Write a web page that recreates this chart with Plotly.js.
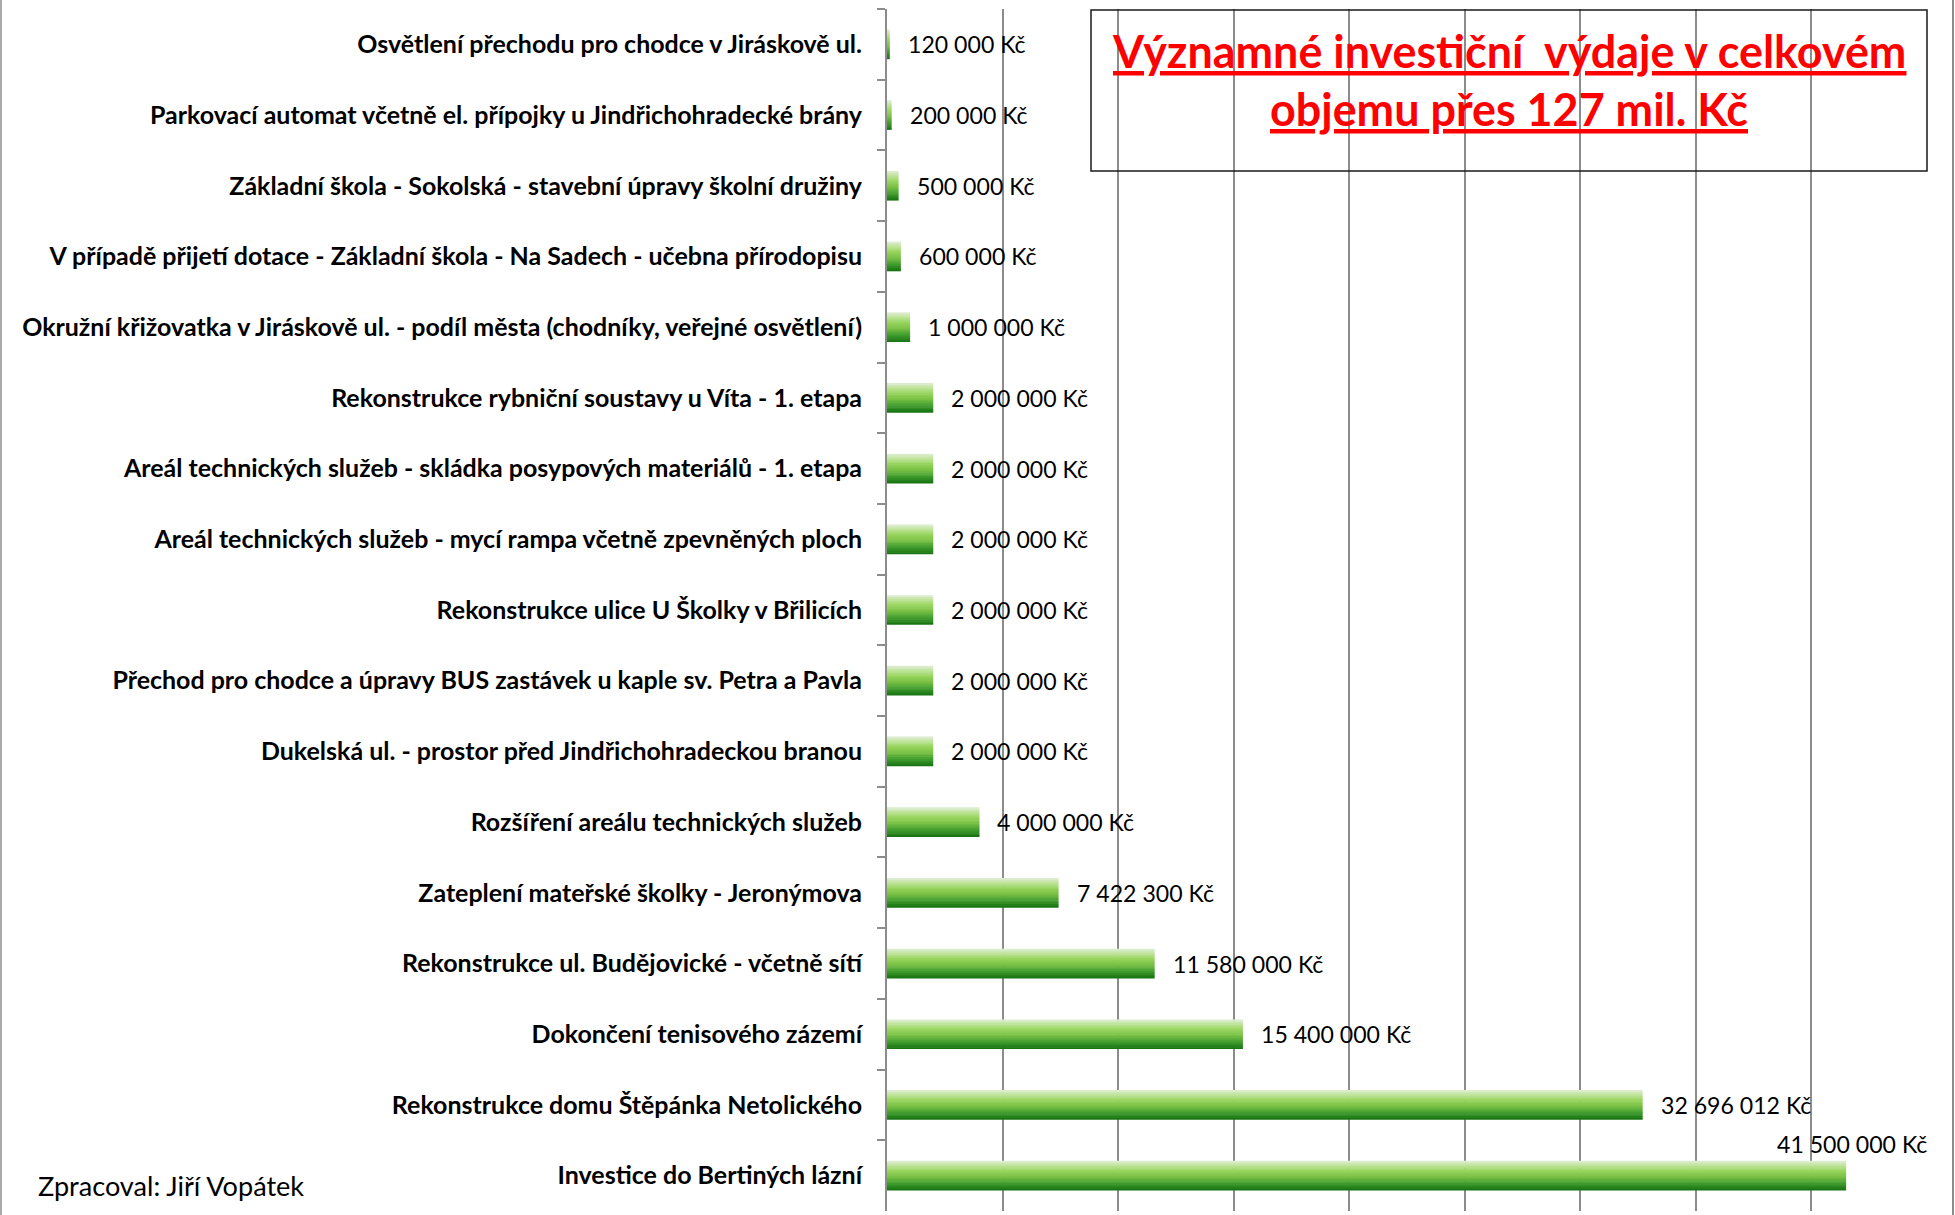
<!DOCTYPE html>
<html><head><meta charset="utf-8">
<script src="https://cdn.plot.ly/plotly-3.0.1.min.js"></script>
<style>html,body{margin:0;padding:0;background:#fff;overflow:hidden}#chart{width:1955px;height:1215px}</style>
</head><body><div id="chart"></div>
<script>
// ---- data (top to bottom as in the picture) ----
const categories = [
  "Osvětlení přechodu pro chodce v Jiráskově ul.",
  "Parkovací automat včetně el. přípojky u Jindřichohradecké brány",
  "Základní škola - Sokolská - stavební úpravy školní družiny",
  "V případě přijetí dotace - Základní škola - Na Sadech - učebna přírodopisu",
  "Okružní křižovatka v Jiráskově ul. - podíl města (chodníky, veřejné osvětlení)",
  "Rekonstrukce rybniční soustavy u Víta - 1. etapa",
  "Areál technických služeb - skládka posypových materiálů - 1. etapa",
  "Areál technických služeb - mycí rampa včetně zpevněných ploch",
  "Rekonstrukce ulice U Školky v Břilicích",
  "Přechod pro chodce a úpravy BUS zastávek u kaple sv. Petra a Pavla",
  "Dukelská ul. - prostor před Jindřichohradeckou branou",
  "Rozšíření areálu technických služeb",
  "Zateplení mateřské školky - Jeronýmova",
  "Rekonstrukce ul. Budějovické - včetně sítí",
  "Dokončení tenisového zázemí",
  "Rekonstrukce domu Štěpánka Netolického",
  "Investice do Bertiných lázní"
];
const values = [120000, 200000, 500000, 600000, 1000000, 2000000, 2000000, 2000000, 2000000, 2000000, 2000000, 4000000, 7422300, 11580000, 15400000, 32696012, 41500000];
const currency = "Kč";
const titleLines = ["Významné investiční  výdaje v celkovém", "objemu přes 127 mil. Kč"];
const footnote = "Zpracoval: Jiří Vopátek";
const xMax = 45000000;
const xStep = 5000000;

// ---- layout geometry (pixels) ----
const W = 1955, H = 1215;
const plotLeft = 887, plotRight = 1927, plotTop = 9, plotBottom = 1211;
const plotW = plotRight - plotLeft, plotH = plotBottom - plotTop;
const px2x = p => (p - plotLeft) / plotW;
const py2y = p => (plotBottom - p) / plotH;
const FAM = "Lato";

const ctx = document.createElement('canvas').getContext('2d');
function measure(text, weight, size) { ctx.font = weight + ' ' + size + 'px ' + FAM; return ctx.measureText(text).width; }
function fit(text, weight, target) { return 100 * target / measure(text, weight, 100); }

const catSize = Math.min(...categories.map(c => fit(c, 'bold', 843)));
const fmt = v => String(Math.round(v)).replace(/\B(?=(\d{3})+(?!\d))/g, '\u00a0') + '\u00a0' + currency;
const valSize = fit(fmt(2000000), 'normal', 137);
const footSize = fit(footnote, 'normal', 268);
const titleSize = fit(titleLines[0], 'bold', 797);

// gradient strips for the bars
const stops = [[0, '#e2efd9'], [0.15, '#c2e49f'], [0.35, '#97d45c'], [0.55, '#78c045'], [0.75, '#44a030'], [1, '#13700f']];
function hex(c) { return [1, 3, 5].map(i => parseInt(c.substr(i, 2), 16)); }
function grad(t) {
  for (let i = 1; i < stops.length; i++) {
    if (t <= stops[i][0]) {
      const a = stops[i - 1], b = stops[i];
      const f = (t - a[0]) / (b[0] - a[0]);
      const ca = hex(a[1]), cb = hex(b[1]);
      return 'rgb(' + ca.map((v, j) => Math.round(v + (cb[j] - v) * f)).join(',') + ')';
    }
  }
  return stops[stops.length - 1][1];
}
const nStrips = 16, barW = 0.42, step = barW / nStrips;
const traces = [];
for (let k = 0; k < nStrips; k++) {
  traces.push({
    type: 'bar', orientation: 'h', x: values, y: categories,
    width: k < nStrips - 1 ? step * 1.3 : step,
    offset: -barW / 2 + k * step,
    marker: { color: grad((k + 0.5) / nStrips), line: { width: 0 } },
    hoverinfo: 'skip', showlegend: false
  });
}

// value labels
const annotations = values.map((v, i) => {
  const txt = fmt(v);
  const endPx = plotLeft + v / xMax * plotW;
  const w = measure(txt, 'normal', valSize);
  if (endPx + 16 + w > plotRight + 4) {
    return { x: xMax, y: categories[i], xref: 'x', yref: 'y', text: txt, showarrow: false,
      xanchor: 'right', yanchor: 'middle', xshift: 2, yshift: 32,
      font: { family: FAM, size: valSize, color: '#000' } };
  }
  return { x: v, y: categories[i], xref: 'x', yref: 'y', text: txt, showarrow: false,
    xanchor: 'left', yanchor: 'middle', xshift: 16,
    font: { family: FAM, size: valSize, color: '#000' } };
});
annotations.push({ x: px2x(36), y: py2y(1185), xref: 'paper', yref: 'paper', text: footnote, showarrow: false,
  xanchor: 'left', yanchor: 'middle', font: { family: FAM, size: footSize, color: '#000' } });
annotations.push({ x: px2x(1509), y: py2y(51), xref: 'paper', yref: 'paper', text: titleLines[0], showarrow: false,
  xanchor: 'center', yanchor: 'middle', font: { family: FAM, size: titleSize, color: '#ff0000', weight: 'bold', lineposition: 'under' } });
annotations.push({ x: px2x(1509), y: py2y(109), xref: 'paper', yref: 'paper', text: titleLines[1], showarrow: false,
  xanchor: 'center', yanchor: 'middle', font: { family: FAM, size: titleSize, color: '#ff0000', weight: 'bold', lineposition: 'under' } });

const shapes = [
  { type: 'rect', xref: 'paper', yref: 'paper', x0: px2x(1091), x1: px2x(1927), y0: py2y(171), y1: py2y(10),
    line: { color: '#1a1a1a', width: 1.5 }, fillcolor: 'rgba(0,0,0,0)' },
  { type: 'line', xref: 'paper', yref: 'paper', x0: px2x(1), x1: px2x(1), y0: py2y(0), y1: py2y(H), line: { color: '#8c8c8c', width: 1.5 } },
  { type: 'line', xref: 'paper', yref: 'paper', x0: px2x(1953), x1: px2x(1953), y0: py2y(0), y1: py2y(H), line: { color: '#8c8c8c', width: 2 } }
];

const layout = {
  width: W, height: H,
  margin: { l: plotLeft, r: W - plotRight, t: plotTop, b: H - plotBottom, pad: 0 },
  paper_bgcolor: '#fff', plot_bgcolor: 'rgba(0,0,0,0)',
  barmode: 'overlay', showlegend: false,
  xaxis: { range: [0, xMax], tick0: 0, dtick: xStep, showgrid: true, gridcolor: '#8c8c8c', gridwidth: 2,
    showticklabels: false, zeroline: false, showline: false, ticks: '', fixedrange: true },
  yaxis: { type: 'category', range: [categories.length - 0.5, -0.5], showline: true, linecolor: '#8c8c8c', linewidth: 2,
    ticks: 'outside', ticklen: 8, tickwidth: 2, tickcolor: '#8c8c8c', tickson: 'boundaries', showgrid: false,
    ticklabelstandoff: 18,
    tickfont: { family: FAM, size: catSize, color: '#000', weight: 'bold' }, fixedrange: true },
  annotations: annotations, shapes: shapes
};
Plotly.newPlot('chart', traces, layout, { displayModeBar: false, staticPlot: true });
</script>
</body></html>
